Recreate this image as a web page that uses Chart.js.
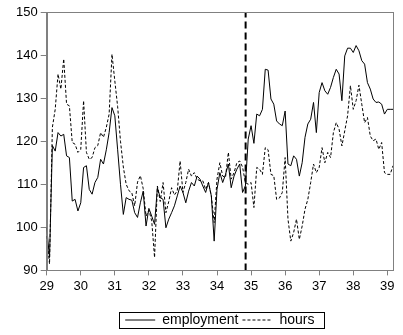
<!DOCTYPE html>
<html>
<head>
<meta charset="utf-8">
<script src="https://cdn.jsdelivr.net/npm/chart.js@4/dist/chart.umd.min.js"></script>
<style>
  html, body { margin: 0; padding: 0; background: #fff; }
  #wrap { width: 403px; height: 335px; }
</style>
</head>
<body>
<div id="wrap"><canvas id="chart" width="403" height="335"></canvas></div>
<script>
// monthly series, Jan 1929 onward
const startYear = 29;
const endYear = 39 + 2 / 12;
const breakDate = 34.84;

const xTicks = [29, 30, 31, 32, 33, 34, 35, 36, 37, 38, 39];
const yTicks = [90, 100, 110, 120, 130, 140, 150];

const employment = [
    100, 93, 119, 117.7, 122, 121.2, 121.6, 116.6, 116.2, 106.1, 106.5, 103.8,
    105.7, 113.9, 114.3, 108.8, 107.7, 110.4, 111.6, 115.8, 114.7, 118, 122, 127.8,
    125.9, 118, 110, 103, 106.9, 106.5, 106.3, 103.4, 102.3, 105.7, 108.4, 100.3,
    104.4, 102.6, 100.7, 109.2, 106.9, 106.5, 99.9, 101.9, 103.4, 105, 107.3, 109.6,
    108.1, 105.7, 108.4, 110.4, 109.6, 111.9, 111.2, 109.6, 108.1, 110.4, 107.3, 96.8,
    108.8, 112.7, 110.4, 112.3, 114.7, 109.2, 111.9, 113.5, 114.7, 108.1, 109.6, 120.5,
    123.6, 119.5, 126.3, 125.9, 127.4, 136.7, 136.5, 129.8, 128.6, 124.7, 124, 123.6,
    127, 114.7, 114.3, 116.6, 115.8, 111.9, 115, 120.9, 124, 125.1, 129, 122,
    131.3, 133.6, 131.7, 130.9, 132.5, 134.8, 136.7, 135.6, 129.4, 139.8, 141.6, 141.6,
    140.6, 142.2, 141, 138.7, 137.9, 133.6, 132.1, 129.8, 129, 129.1, 128.6, 126.3,
    127.4, 127.4, 127.4
];

const hours = [
    98, 91.5, 123.2, 127.4, 135.6, 132.1, 139.1, 128.6, 128.2, 119.7, 119.3, 117.4,
    118.1, 129.4, 117.4, 115.8, 116.2, 118.5, 119, 122, 120.9, 123.2, 126.3, 140.2,
    134, 128, 120, 114, 110, 108.5, 108, 105, 110.5, 112, 109, 102.6,
    104, 101.5, 93, 109.6, 106, 110.4, 103.4, 106, 109.2, 107.5, 108.5, 115.4,
    108.1, 110.4, 113.5, 111.9, 112.7, 111.2, 110.8, 110.8, 108.8, 110.4, 107.3, 101.1,
    111.2, 115, 111.9, 111.6, 117.4, 111.2, 112.7, 115, 115.4, 114, 110.4, 110,
    110.4, 104.6, 113.9, 113.5, 112.3, 118.5, 118, 112.3, 112, 106.5, 106.8, 108.1,
    116.2, 101.9, 96.8, 98.8, 101.9, 97.2, 100.3, 104.2, 106.5, 110.4, 114.7, 112.7,
    113.9, 118.5, 115, 117.4, 116.2, 122, 124.3, 122.8, 118.9, 122.4, 125.9, 132.9,
    127.4, 129.4, 133, 128.6, 124.3, 125.5, 121.2, 120.1, 120.5, 118.1, 119.7, 112.7,
    112.3, 112.3, 114.3
];

const toPoints = (arr) => arr.map((v, i) => ({ x: startYear + i / 12, y: v }));

Chart.defaults.font.family = "'Liberation Sans', Arial, sans-serif";
Chart.defaults.color = '#000';

const frameColor = '#808080';

// box round the plot area and round the legend
const framePlugin = {
    id: 'frames',
    afterDraw(chart) {
        const { ctx, chartArea } = chart;
        ctx.save();
        ctx.strokeStyle = frameColor;
        ctx.lineWidth = 1;
        ctx.strokeRect(Math.round(chartArea.left) + 0.5, Math.round(chartArea.top) + 0.5,
            Math.round(chartArea.width), Math.round(chartArea.height));

        const boxes = chart.legend.legendHitBoxes;
        if (boxes && boxes.length) {
            const left = Math.min(...boxes.map(b => b.left)) - 6;
            const right = Math.max(...boxes.map(b => b.left + b.width)) + 10;
            const top = Math.min(...boxes.map(b => b.top)) - 1;
            const bottom = Math.max(...boxes.map(b => b.top + b.height)) + 1;
            ctx.strokeStyle = '#000';
            ctx.strokeRect(Math.round(left) + 0.5, Math.round(top) + 0.5,
                Math.round(right - left), Math.round(bottom - top));
        }
        ctx.restore();
    }
};

const defaultLabels = Chart.defaults.plugins.legend.labels.generateLabels;

new Chart(document.getElementById('chart'), {
    type: 'line',
    data: {
        datasets: [
            {
                label: 'employment',
                data: toPoints(employment),
                borderColor: '#000',
                borderWidth: 1,
                pointRadius: 0,
                tension: 0
            },
            {
                label: 'hours',
                data: toPoints(hours),
                borderColor: '#000',
                borderWidth: 1,
                borderDash: [3, 2],
                pointRadius: 0,
                tension: 0
            },
            {
                label: 'break',
                data: [{ x: breakDate, y: yTicks[0] }, { x: breakDate, y: yTicks[yTicks.length - 1] }],
                borderColor: '#000',
                borderWidth: 2,
                borderDash: [7, 4],
                pointRadius: 0
            }
        ]
    },
    options: {
        responsive: false,
        animation: false,
        layout: { padding: { left: 13, right: 10, top: 12, bottom: -2 } },
        scales: {
            x: {
                type: 'linear',
                min: startYear,
                max: endYear,
                afterBuildTicks: (axis) => { axis.ticks = xTicks.map(v => ({ value: v })); },
                grid: { drawOnChartArea: false, color: frameColor, tickLength: 5 },
                border: { color: frameColor },
                ticks: { font: { size: 13 }, padding: 3, maxRotation: 0, callback: v => v }
            },
            y: {
                min: yTicks[0],
                max: yTicks[yTicks.length - 1],
                afterBuildTicks: (axis) => { axis.ticks = yTicks.map(v => ({ value: v })); },
                grid: { drawOnChartArea: false, color: frameColor, tickLength: 6 },
                border: { color: frameColor },
                ticks: { font: { size: 13 }, padding: 3, callback: v => v }
            }
        },
        plugins: {
            legend: {
                position: 'bottom',
                fullSize: false,
                title: { display: true, text: '', padding: 0, font: { size: 12, lineHeight: 1 } },
                labels: {
                    usePointStyle: true,
                    pointStyle: 'line',
                    pointStyleWidth: 30,
                    padding: 4,
                    color: '#000',
                    font: { size: 14 },
                    generateLabels: (chart) => defaultLabels(chart).map(item => {
                        item.lineDash = chart.data.datasets[item.datasetIndex].borderDash || [];
                        return item;
                    }),
                    filter: (item) => item.text !== 'break'
                }
            },
            tooltip: { enabled: false }
        }
    },
    plugins: [framePlugin]
});
</script>
</body>
</html>
